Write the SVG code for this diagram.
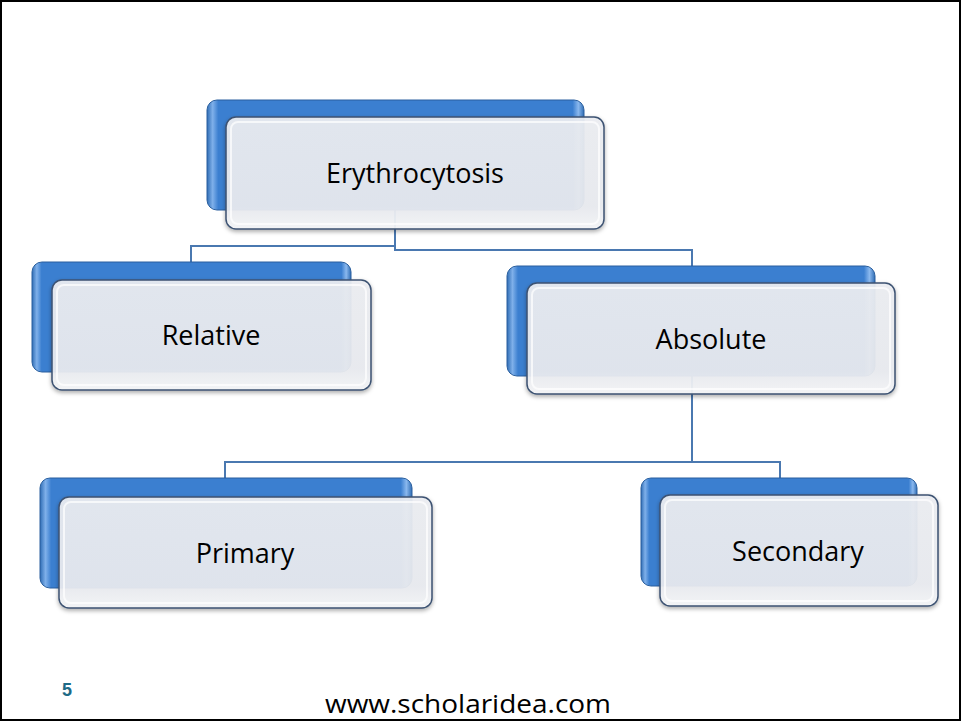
<svg xmlns="http://www.w3.org/2000/svg" width="961" height="721" viewBox="0 0 961 721">
<defs>
<linearGradient id="blueG" x1="0" y1="0" x2="1" y2="0">
<stop offset="0" stop-color="#2f6db5"/>
<stop offset="0.015" stop-color="#7fb0ea"/>
<stop offset="0.03" stop-color="#3b7fd0"/>
<stop offset="0.97" stop-color="#3b7fd0"/>
<stop offset="0.985" stop-color="#8ab8ee"/>
<stop offset="1" stop-color="#2f6db5"/>
</linearGradient>
<linearGradient id="frontG" x1="0" y1="0" x2="0" y2="1">
<stop offset="0" stop-color="#eceef2"/>
<stop offset="0.8" stop-color="#e9ebf0"/>
<stop offset="1" stop-color="#f5f6f8"/>
</linearGradient>
<filter id="sh" x="-10%" y="-10%" width="120%" height="130%">
<feDropShadow dx="0" dy="2" stdDeviation="2" flood-color="#000" flood-opacity="0.35"/>
</filter>
</defs>
<style>
.back{fill:url(#blueG);stroke:#2a5f9e;stroke-width:1}
.front{fill:url(#frontG);fill-opacity:0.93;stroke:#3c5272;stroke-width:1.5}
.inner{fill:none;stroke:#ffffff;stroke-width:2;opacity:0.7}
.lbl{font-family:"Open Sans","Noto Sans","Liberation Sans",sans-serif;font-size:27px;fill:#000;text-anchor:middle}
.conn{fill:none;stroke:#4a78b0;stroke-width:2}
</style>
<rect x="1" y="1" width="959" height="719" fill="#fff" stroke="#000" stroke-width="2"/>
<g id="connectors">
<polyline class="conn" points="395,210 395,246 191,246 191,262"/>
<polyline class="conn" points="395,246 395,250 692,250 692,266"/>
<polyline class="conn" points="692,376 692,462 225,462 225,478"/>
<polyline class="conn" points="692,462 780,462 780,478"/>
</g>
<g id="node-erythrocytosis">
<rect class="back" x="207" y="100" width="377" height="110" rx="10"/>
<rect class="front" x="226" y="117" width="378" height="112" rx="10" filter="url(#sh)"/>
<rect class="inner" x="231" y="122" width="368" height="102" rx="7"/>
<text class="lbl" x="415" y="183">Erythrocytosis</text>
</g>
<g id="node-relative">
<rect class="back" x="32" y="262" width="319" height="110" rx="10"/>
<rect class="front" x="52" y="280" width="319" height="110" rx="10" filter="url(#sh)"/>
<rect class="inner" x="57" y="285" width="309" height="100" rx="7"/>
<text class="lbl" x="211" y="345">Relative</text>
</g>
<g id="node-absolute">
<rect class="back" x="507" y="266" width="368" height="110" rx="10"/>
<rect class="front" x="527" y="283" width="368" height="111" rx="10" filter="url(#sh)"/>
<rect class="inner" x="532" y="288" width="358" height="101" rx="7"/>
<text class="lbl" x="711" y="349">Absolute</text>
</g>
<g id="node-primary">
<rect class="back" x="40" y="478" width="372" height="110" rx="10"/>
<rect class="front" x="59" y="497" width="373" height="111" rx="10" filter="url(#sh)"/>
<rect class="inner" x="64" y="502" width="363" height="101" rx="7"/>
<text class="lbl" x="245" y="563">Primary</text>
</g>
<g id="node-secondary">
<rect class="back" x="641" y="478" width="276" height="108" rx="10"/>
<rect class="front" x="660" y="495" width="278" height="111" rx="10" filter="url(#sh)"/>
<rect class="inner" x="665" y="500" width="268" height="101" rx="7"/>
<text class="lbl" x="798" y="561">Secondary</text>
</g>
<text x="67" y="696" font-family="Liberation Sans, sans-serif" font-size="18" font-weight="bold" fill="#1d6a86" text-anchor="middle">5</text>
<text x="468" y="713" font-family="Open Sans, Noto Sans, sans-serif" font-size="26" fill="#000" text-anchor="middle" textLength="286" lengthAdjust="spacingAndGlyphs">www.scholaridea.com</text>
</svg>
